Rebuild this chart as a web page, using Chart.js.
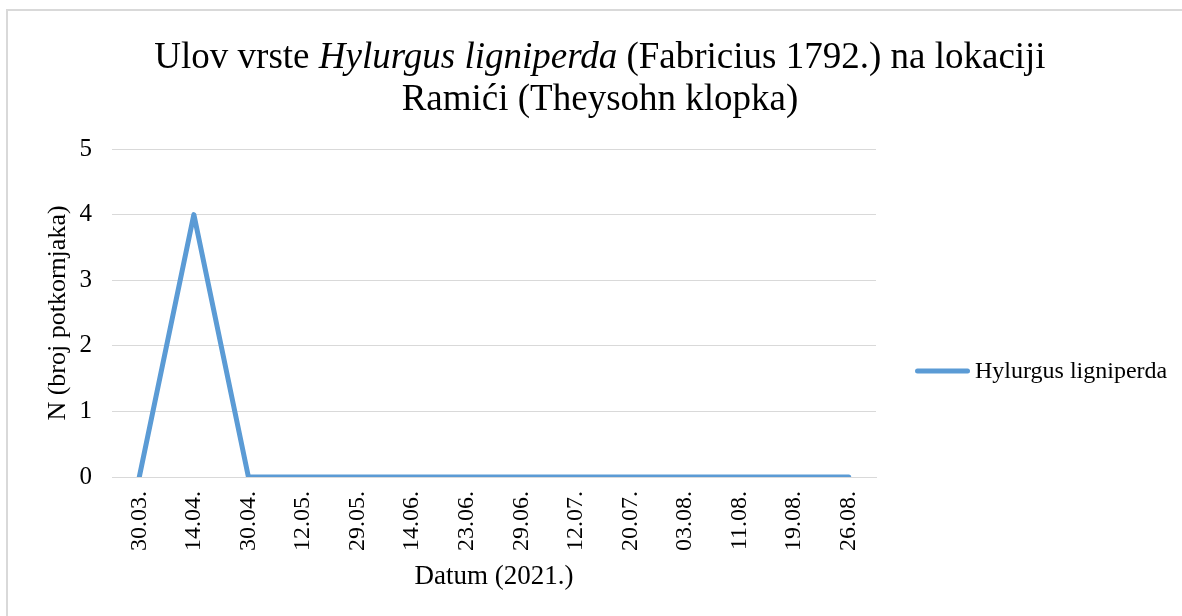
<!DOCTYPE html>
<html>
<head>
<meta charset="utf-8">
<script src="https://cdn.jsdelivr.net/npm/chart.js@4/dist/chart.umd.min.js"></script>
<style>
  html, body { margin: 0; padding: 0; background: #fff; width: 1182px; height: 616px; overflow: hidden; }
  #frame { position: absolute; left: 6px; top: 9px; width: 1300px; height: 700px; border-top: 2px solid #d9d9d9; border-left: 2px solid #d9d9d9; }
  #title { position: absolute; left: 0; top: 35px; width: 1200px; text-align: center; font-family: 'Liberation Serif', serif; font-size: 37px; line-height: 42px; color: #000; }
  #chart { position: absolute; left: 0; top: 0; }
</style>
</head>
<body>
<div id="frame"></div>
<canvas id="chart" width="1182" height="616"></canvas>
<div id="title">Ulov vrste <i>Hylurgus ligniperda</i> (Fabricius 1792.) na lokaciji<br>Ramići (Theysohn klopka)</div>
<script>
const dates = ['30.03.', '14.04.', '30.04.', '12.05.', '29.05.', '14.06.', '23.06.', '29.06.', '12.07.', '20.07.', '03.08.', '11.08.', '19.08.', '26.08.'];
const beetleCounts = [0, 4, 0, 0, 0, 0, 0, 0, 0, 0, 0, 0, 0, 0];
const seriesName = 'Hylurgus ligniperda';
const yMin = 0, yMax = 5, yStep = 1;

const serif = 'Liberation Serif';

// legend on the right; drawn by hand since the built-in one is capped in width
const sideLegend = {
  id: 'sideLegend',
  afterDraw(chart) {
    const ds = chart.data.datasets[0];
    const ctx = chart.ctx;
    const y = 371;
    ctx.save();
    ctx.strokeStyle = ds.borderColor;
    ctx.lineWidth = ds.borderWidth;
    ctx.lineCap = 'round';
    ctx.beginPath();
    ctx.moveTo(917.5, y);
    ctx.lineTo(967.5, y);
    ctx.stroke();
    ctx.fillStyle = '#000';
    ctx.font = '24px "' + serif + '"';
    ctx.textBaseline = 'middle';
    ctx.fillText(ds.label, 975, y + 1);
    ctx.restore();
  }
};

new Chart(document.getElementById('chart'), {
  type: 'line',
  data: {
    labels: dates,
    datasets: [{
      label: seriesName,
      data: beetleCounts,
      borderColor: '#5b9bd5',
      backgroundColor: '#5b9bd5',
      borderWidth: 5,
      borderCapStyle: 'round',
      borderJoinStyle: 'round',
      pointRadius: 0,
      pointHoverRadius: 0,
      tension: 0
    }]
  },
  options: {
    responsive: false,
    animation: false,
    layout: { padding: { top: 149, bottom: 23, left: 40, right: 306 } },
    plugins: {
      title: { display: false },
      tooltip: { enabled: false },
      legend: { display: false }
    },
    scales: {
      x: {
        offset: true,
        grid: { display: false, drawTicks: false },
        border: { display: true, color: '#d9d9d9', width: 1 },
        ticks: {
          autoSkip: false,
          minRotation: 90,
          maxRotation: 90,
          padding: 14,
          color: '#000',
          font: { family: serif, size: 24 }
        },
        title: {
          display: true,
          text: 'Datum (2021.)',
          color: '#000',
          font: { family: serif, size: 27 },
          padding: { top: 0, bottom: 0 }
        },
        afterFit: (scale) => { scale.height = 116; }
      },
      y: {
        min: yMin,
        max: yMax,
        grid: { color: '#d9d9d9', lineWidth: 1, drawTicks: false },
        border: { display: false },
        ticks: {
          stepSize: yStep,
          padding: 20,
          color: '#000',
          font: { family: serif, size: 25 }
        },
        title: {
          display: true,
          text: 'N (broj potkornjaka)',
          color: '#000',
          font: { family: serif, size: 26 },
          padding: { top: 3, bottom: 0 }
        },
        afterFit: (scale) => { scale.width = 72; }
      }
    }
  },
  plugins: [sideLegend]
});
</script>
</body>
</html>
